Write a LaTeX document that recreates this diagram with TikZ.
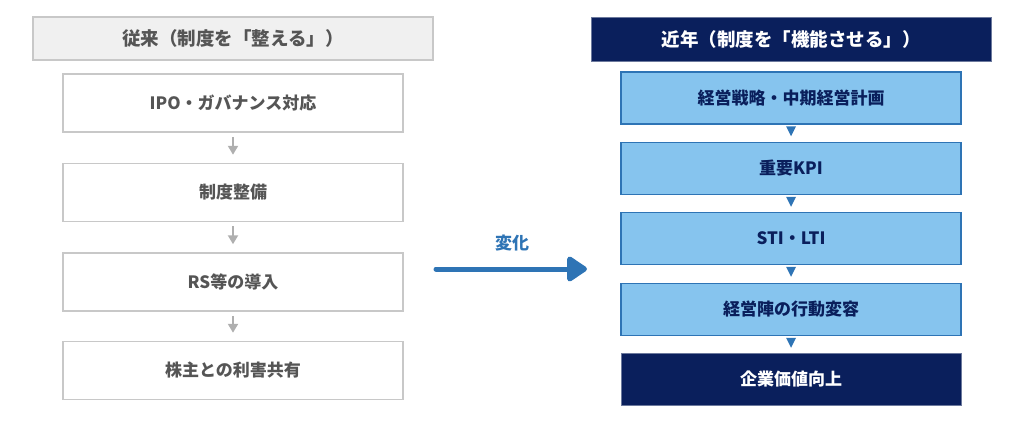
\documentclass[tikz,border=0pt]{standalone}
\usepackage{fontspec}
\setmainfont{Noto Sans CJK JP}
\usetikzlibrary{arrows.meta}
\definecolor{navy}{HTML}{0A1F5C}
\definecolor{lblue}{HTML}{86C4EE}
\definecolor{mblue}{HTML}{2E74B5}
\definecolor{lgray}{HTML}{F0F0F0}
\definecolor{bgray}{HTML}{C8C8C8}
\definecolor{tgray}{HTML}{555555}
\definecolor{agray}{HTML}{AFAFAF}
\tikzset{
  lhead/.style={draw=bgray, line width=1.5pt, fill=lgray, text=tgray, minimum width=400pt, minimum height=43pt, font=\bfseries\fontsize{18.5}{20}\selectfont, inner sep=0pt},
  lbox/.style={draw=bgray, line width=1.5pt, fill=white, text=tgray, minimum width=340pt, minimum height=58pt, font=\bfseries\fontsize{17}{19}\selectfont, inner sep=0pt},
  rhead/.style={draw=navy!60, line width=0.6pt, fill=navy, text=white, minimum width=400pt, minimum height=44pt, font=\bfseries\fontsize{18.5}{20}\selectfont, inner sep=0pt},
  rbox/.style={draw=mblue, line width=1.5pt, fill=lblue, text=navy, minimum width=340pt, minimum height=52pt, font=\bfseries\fontsize{17}{19}\selectfont, inner sep=0pt},
  rfinal/.style={draw=navy!60, line width=0.6pt, fill=navy, text=white, minimum width=340pt, minimum height=52pt, font=\bfseries\fontsize{17}{19}\selectfont, inner sep=0pt},
  grayarr/.style={draw=agray, line width=2.6pt, -{Triangle[width=10pt,length=9pt]}},
  bluearr/.style={draw=mblue, line width=5pt, line cap=round, -{Triangle[width=28pt,length=22pt, round]}},
  tri/.style={fill=mblue},
}
\begin{document}
\begin{tikzpicture}[x=1pt,y=-1pt]
\useasboundingbox (0,0) rectangle (1024,429);
% left column
\node[lhead] (lh) at (233,38.5) {従来（制度を「整える」）};
\node[lbox] (l1) at (233,103) {IPO・ガバナンス対応};
\node[lbox] (l2) at (233,192.5) {制度整備};
\node[lbox] (l3) at (233,282) {RS等の導入};
\node[lbox] (l4) at (233,370.5) {株主との利害共有};
\foreach \a/\b in {l1/l2,l2/l3,l3/l4}
  \draw[grayarr] ([yshift=-4pt]\a.south) -- ([yshift=8pt]\b.north);
% right column
\node[rhead] (rh) at (791,39) {近年（制度を「機能させる」）};
\node[rbox] (r1) at (791,98) {経営戦略・中期経営計画};
\node[rbox] (r2) at (791,168.5) {重要KPI};
\node[rbox] (r3) at (791,238.5) {STI・LTI};
\node[rbox] (r4) at (791,309.5) {経営陣の行動変容};
\node[rfinal] (r5) at (791,379) {企業価値向上};
\foreach \a in {r1,r2,r3,r4}
  \fill[tri] ([yshift=-1.5pt]\a.south) ++(-5,0) -- ++(10,0) -- ++(-5,10) -- cycle;
% change arrow
\coordinate (as) at (436,269);
\coordinate (ae) at (587,269);
\draw[bluearr] (as) -- (ae);
\node[text=mblue, font=\bfseries\fontsize{17}{19}\selectfont] (lbl) at (512,243) {変化};
\end{tikzpicture}
\end{document}
